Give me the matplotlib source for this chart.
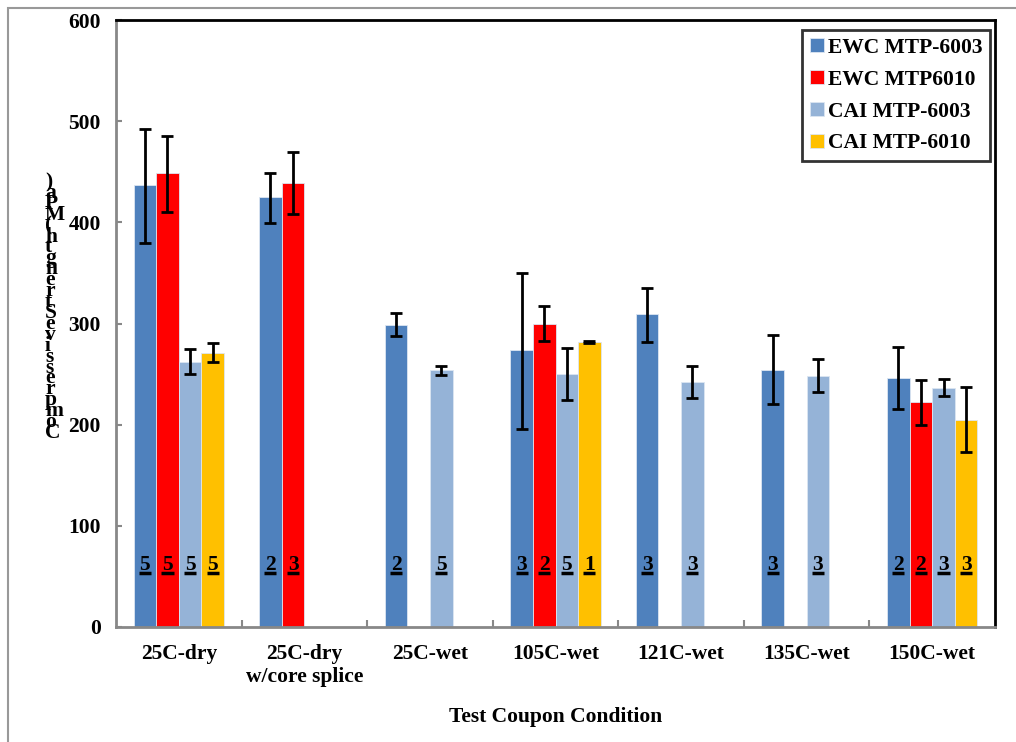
import numpy as np
import matplotlib.pyplot as plt
from matplotlib.patches import Rectangle

plt.rcParams['font.family'] = 'Liberation Serif'
plt.rcParams['font.weight'] = 'bold'

# Data
conditions = ['25C-dry', '25C-dry\nw/core splice', '25C-wet', '105C-wet',
              '121C-wet', '135C-wet', '150C-wet']
series = ['EWC MTP-6003', 'EWC MTP6010', 'CAI MTP-6003', 'CAI MTP-6010']
colors = ['#4F81BD', '#FF0000', '#95B3D7', '#FFC000']

nan = np.nan
ewc_6003 = [437, 425, 299, 274, 309, 254, 246]
ewc_6010 = [449, 439, nan, 300, nan, nan, 222]
cai_6003 = [262, nan, 254, 250, 242, 248, 236]
cai_6010 = [271, nan, nan, 282, nan, nan, 205]

ewc_6003_lo = [380, 399, 288, 196, 282, 220, 215]
ewc_6003_hi = [492, 449, 310, 350, 335, 289, 277]
ewc_6010_lo = [410, 408, nan, 283, nan, nan, 200]
ewc_6010_hi = [485, 470, nan, 317, nan, nan, 244]
cai_6003_lo = [250, nan, 249, 224, 226, 232, 228]
cai_6003_hi = [275, nan, 258, 276, 258, 265, 245]
cai_6010_lo = [262, nan, nan, 281, nan, nan, 173]
cai_6010_hi = [281, nan, nan, 283, nan, nan, 237]

# sample counts printed on the bars
n_ewc_6003 = ['5', '2', '2', '3', '3', '3', '2']
n_ewc_6010 = ['5', '3', '', '2', '', '', '2']
n_cai_6003 = ['5', '', '5', '5', '3', '3', '3']
n_cai_6010 = ['5', '', '', '1', '', '', '3']

values = [ewc_6003, ewc_6010, cai_6003, cai_6010]
lows = [ewc_6003_lo, ewc_6010_lo, cai_6003_lo, cai_6010_lo]
highs = [ewc_6003_hi, ewc_6010_hi, cai_6003_hi, cai_6010_hi]
counts = [n_ewc_6003, n_ewc_6010, n_cai_6003, n_cai_6010]

FS = 15.5

fig = plt.figure(figsize=(10.16, 7.42), dpi=100)
fig.patch.set_facecolor('white')
ax = fig.add_axes([116 / 1016, 1 - 627 / 742, (995 - 116) / 1016, (627 - 20) / 742])

# outer chart frame
fig.patches.append(Rectangle((8 / 1016, -0.05), 1.1, 1 - 8 / 742 + 0.05,
                             transform=fig.transFigure, fill=False,
                             edgecolor='#999999', linewidth=1.5))

x = np.arange(len(conditions))
width = 0.18
label_y = 56

for i, (vals, lo, hi, cnt, col, name) in enumerate(zip(values, lows, highs, counts, colors, series)):
    pos = x + (i - 1.5) * width
    vals = np.array(vals, dtype=float)
    lo = np.array(lo, dtype=float)
    hi = np.array(hi, dtype=float)
    ax.bar(pos, vals, width, color=col, edgecolor='#dce6f2', linewidth=0.6, label=name, zorder=2)
    ok = ~np.isnan(vals)
    ax.errorbar(pos[ok], vals[ok], yerr=[vals[ok] - lo[ok], hi[ok] - vals[ok]],
                fmt='none', ecolor='black', elinewidth=2, capsize=4, capthick=2, zorder=3)
    for p, c in zip(pos, cnt):
        if c:
            ax.text(p, label_y, c, ha='center', va='baseline', fontsize=FS,
                    fontweight='bold', color='black', zorder=4)
            ax.plot([p - 0.048, p + 0.048], [label_y - 3, label_y - 3], color='black',
                    linewidth=2.5, solid_capstyle='butt', zorder=4)

ax.set_xlim(-0.5, len(conditions) - 0.5)
ax.set_ylim(0, 600)
ax.set_yticks(np.arange(0, 601, 100))
ax.set_xticks(x)
ax.set_xticklabels(conditions, fontsize=FS, fontweight='bold', linespacing=1.25)
ax.set_xticks(np.arange(0.5, len(conditions) - 0.5, 1), minor=True)
ax.tick_params(axis='x', which='major', length=0, pad=12)
ax.tick_params(axis='x', which='minor', direction='in', length=5, width=1.5, color='#888888')
ax.tick_params(axis='y', direction='in', length=4, width=1.5, color='#888888',
               labelsize=FS, pad=11)
for lab in ax.get_yticklabels():
    lab.set_fontweight('bold')

for side in ['left', 'bottom']:
    ax.spines[side].set_color('#888888')
    ax.spines[side].set_linewidth(2)
for side in ['top', 'right']:
    ax.spines[side].set_color('black')
    ax.spines[side].set_linewidth(2)

ax.set_xlabel('Test Coupon Condition', fontsize=FS, fontweight='bold', labelpad=14)

# stacked y-axis label, one upright character per line
ylabel = 'Compressive Strength (MPa)'.replace(' ', '')
y_top, y_bot = 182, 433
step = (y_bot - y_top) / (len(ylabel) - 1)
for k, ch in enumerate(reversed(ylabel)):
    fig.text(45 / 1016, 1 - (y_top + k * step) / 742, ch, ha='left', va='center',
             fontsize=FS, fontweight='bold')

leg = ax.legend(loc='upper right', bbox_to_anchor=(0.9945, 0.983), fontsize=FS,
                frameon=True, fancybox=False, handlelength=0.65, handleheight=0.65,
                handletextpad=0.2, borderpad=0.35, labelspacing=0.55, borderaxespad=0)
leg.get_frame().set_edgecolor('black')
leg.get_frame().set_linewidth(2)
for t in leg.get_texts():
    t.set_fontweight('bold')

plt.savefig('out.png', dpi=100, facecolor='white')
